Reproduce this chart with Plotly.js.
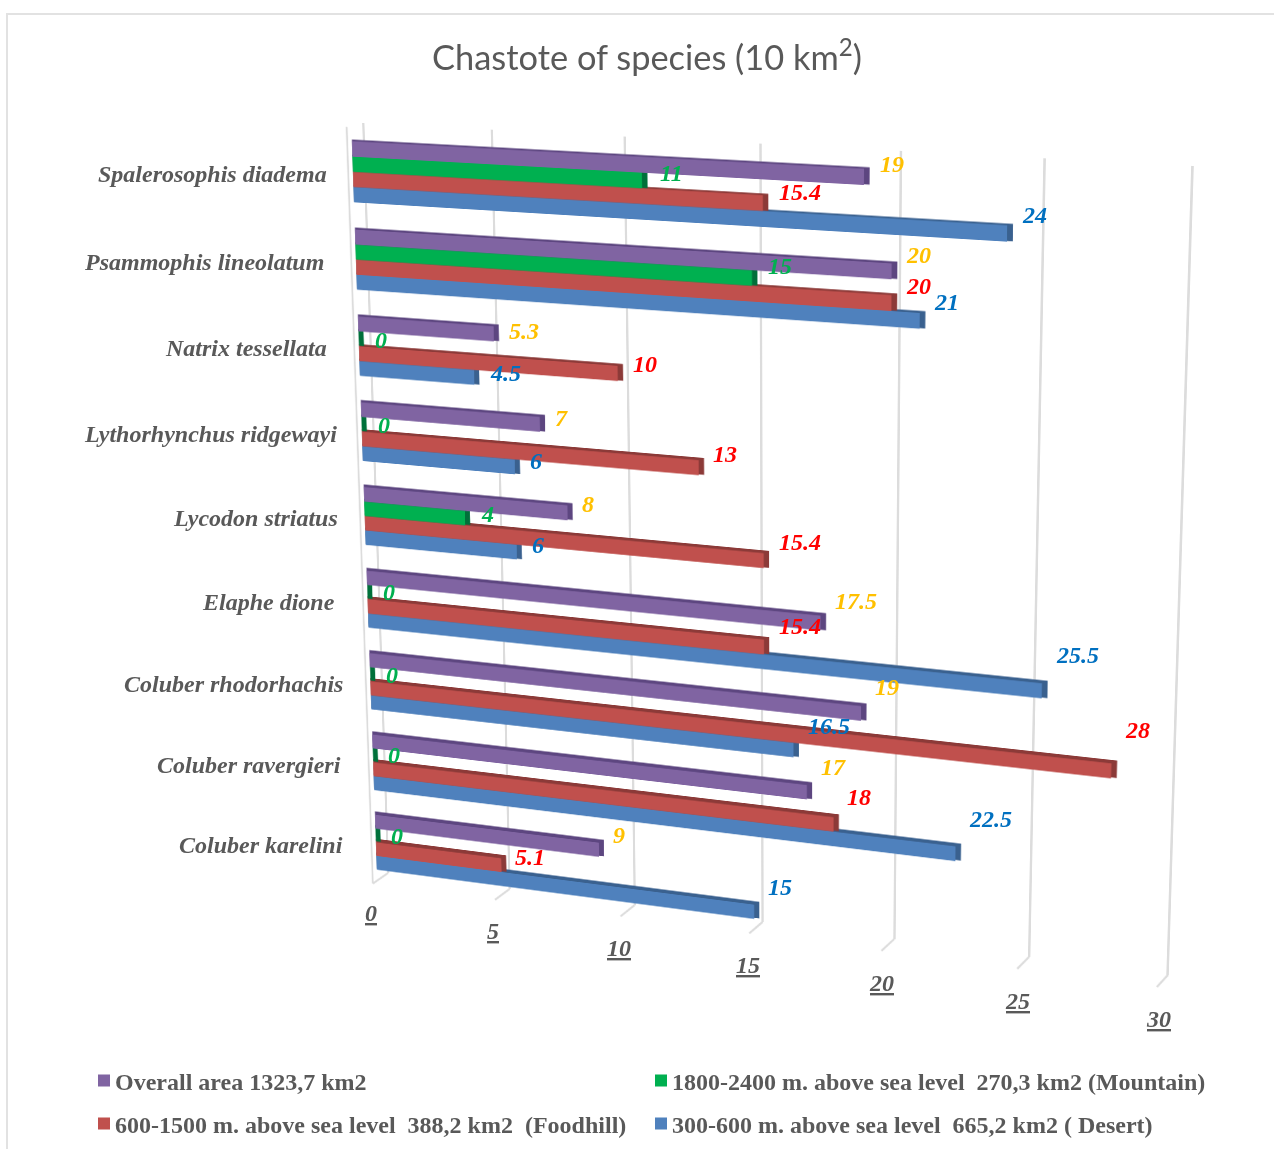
<!DOCTYPE html>
<html><head><meta charset="utf-8">
<script src="https://cdn.plot.ly/plotly-3.0.1.min.js"></script>
<style>
html,body{margin:0;padding:0;background:#fff;overflow:hidden}
#chart{position:absolute;left:0;top:0;width:1274px;height:1149px}
#frame{position:absolute;left:6px;top:13px;right:0;bottom:0;border-left:2px solid #E2E2E2;border-top:2px solid #E2E2E2;pointer-events:none}
</style></head><body>
<div id="frame"></div>
<div id="chart"></div>
<script>
// ---- data ----
const species = ['Spalerosophis diadema','Psammophis lineolatum','Natrix tessellata','Lythorhynchus ridgewayi','Lycodon striatus','Elaphe dione','Coluber rhodorhachis','Coluber ravergieri','Coluber karelini'];
const overallArea = [19,20,5.3,7,8,17.5,19,17,9];
const mountain    = [11,15,0,0,4,0,0,0,0];
const foothill    = [15.4,20,10,13,15.4,15.4,28,18,5.1];
const desert      = [24,21,4.5,6,6,25.5,16.5,22.5,15];
const seriesNames = ['Overall area 1323,7 km2','1800-2400 m. above sea level\u00A0\u00A0270,3 km2 (Mountain)','600-1500 m. above sea level\u00A0\u00A0388,2 km2\u00A0\u00A0(Foodhill)','300-600 m. above sea level\u00A0\u00A0665,2 km2 ( Desert)'];
const axisTicks = [0,5,10,15,20,25,30];

// ---- layout constants (pixels in the final picture) ----
const W=1274,H=1149,mL=100,mR=100,mT=100,mB=100;
const pw=W-mL-mR, ph=H-mT-mB;
const r0=-1, r1=30.5, barZero=0.46, barScale=1.009;
const quad={tl:[363,123],tr:[1193,166],br:[1168,975],bl:[388,873]}; // back wall, values 0 and 30
const faceColors=['#8064A2','#00B050','#C0504D','#4F81BD'];
const sideColors=['#5D4680','#00703A','#8C3A38','#3A618F'];
const labelColors=['#FFC000','#00B050','#FF0000','#0070C0'];
const legendPos=[[75,1081],[632,1081],[75,1124],[632,1124]];
const labelPos=[
 [[892,164],[671,173],[800,192],[1034,215]],
 [[918,255],[780,266],[918,286],[946,302]],
 [[524,331],[381,340],[645,364],[505,373]],
 [[561,418],[384,425],[725,454],[536,461]],
 [[588,504],[487,514],[800,542],[538,545]],
 [[856,601],[389,592],[800,626],[1077,655]],
 [[887,687],[392,675],[1137,730],[829,726]],
 [[833,767],[394,755],[859,797],[990,819]],
 [[619,835],[397,836],[530,857],[780,887]]];
const catRight=[329,326,329,339,340,337,345,343,345];
const catY=[174,262,348,434,518,602,684,765,845];
const tickPos=[[371,913],[493,931],[619,948],[748,965],[881,983],[1017,1001],[1158,1019]];

const serif='"Liberation Serif","Times New Roman",serif';
const gray='#595959';
const paperX=px=>(px-mL)/pw, paperY=py=>1-(py-mT)/ph;
const valX=v=>(v-r0)/(r1-r0);

const series=[overallArea,mountain,foothill,desert];
const halfGroup=0.345, barW=2*halfGroup/4, capLen=0.2;
const traces=[];
[3,2,1,0].forEach(s=>{
  const vals=series[s];
  const top=-halfGroup+s*barW;
  const band=species.map((_,i)=>0.02+i*0.003);
  traces.push({type:'bar',orientation:'h',y:species,x:vals.map(v=>v+capLen),
    offset:band.map(b=>top-b),width:band.map(b=>barW+b*0.7),
    marker:{color:sideColors[s],line:{width:0}},showlegend:false,hoverinfo:'skip'});
  traces.push({type:'bar',orientation:'h',y:species,x:vals,name:seriesNames[s],
    offset:top,width:barW,marker:{color:faceColors[s],line:{width:0}},
    legend:s===0?'legend':'legend'+(s+1),showlegend:true});
});
traces.push({type:'scatter',mode:'none',x:[0],y:[species[0]],xaxis:'x2',yaxis:'y',showlegend:false,hoverinfo:'skip'});

const annotations=[];
const ann=(txt,x,y,xa,font)=>annotations.push({text:txt,xref:'paper',yref:'paper',x:paperX(x),y:paperY(y),xanchor:xa,yanchor:'middle',showarrow:false,font});
species.forEach((n,i)=>ann(n,catRight[i],catY[i],'right',{family:serif,size:24,color:gray,weight:'bold',style:'italic'}));
series.forEach((vals,s)=>vals.forEach((v,i)=>ann(String(v),labelPos[i][s][0],labelPos[i][s][1],'center',{family:serif,size:24,color:labelColors[s],weight:'bold',style:'italic'})));
axisTicks.forEach((t,i)=>ann('<u>'+t+'</u>',tickPos[i][0],tickPos[i][1],'center',{family:serif,size:24,color:gray,weight:'bold',style:'italic'}));

const wallColor='#DCDCDC';
const shapes=[{type:'line',xref:'paper',yref:'paper',x0:valX(-0.65),x1:valX(-0.65),y0:0.994,y1:-0.018,line:{color:wallColor,width:2.5},layer:'below'}];
axisTicks.forEach(t=>{
  shapes.push({type:'line',xref:'paper',yref:'paper',x0:valX(t),y0:0,x1:valX(t-(0.65-t*0.009)),y1:-0.018,line:{color:wallColor,width:2.5},layer:'below'});
});

const legendBase=i=>({x:paperX(legendPos[i][0]),y:paperY(legendPos[i][1]),xanchor:'left',yanchor:'middle',bgcolor:'rgba(0,0,0,0)',borderwidth:0,font:{family:serif,size:24,color:gray,weight:'bold'}});

const layout={
  width:W,height:H,autosize:false,
  margin:{l:mL,r:mR,t:mT,b:mB,pad:0,autoexpand:false},
  paper_bgcolor:'rgba(0,0,0,0)',plot_bgcolor:'rgba(0,0,0,0)',
  barmode:'overlay',
  title:{text:'Chastote of species (10 km<sup>2</sup>)',x:647/W,y:1-58/H,xanchor:'center',yanchor:'middle',font:{family:'Lato, sans-serif',size:34.4,color:gray}},
  xaxis:{range:[(r0+barZero)/barScale,(r1+barZero)/barScale],showgrid:false,zeroline:false,showticklabels:false,ticks:'',showline:false},
  xaxis2:{range:[r0,r1],overlaying:'x',anchor:'y',tickmode:'array',tickvals:axisTicks,showgrid:true,gridcolor:wallColor,gridwidth:2.5,zeroline:false,showticklabels:false,ticks:'',showline:false},
  yaxis:{type:'category',categoryorder:'array',categoryarray:species,range:[8.369,-0.5575],showgrid:false,zeroline:false,showticklabels:false,ticks:'',showline:false},
  legend:legendBase(0),legend2:legendBase(1),legend3:legendBase(2),legend4:legendBase(3),
  annotations,shapes
};

function homography(){
  const {tl,tr,br,bl}=quad;
  const dx1=tr[0]-br[0],dx2=bl[0]-br[0],sx=tl[0]-tr[0]+br[0]-bl[0];
  const dy1=tr[1]-br[1],dy2=bl[1]-br[1],sy=tl[1]-tr[1]+br[1]-bl[1];
  const den=dx1*dy2-dx2*dy1;
  const g=(sx*dy2-dx2*sy)/den,h=(dx1*sy-sx*dy1)/den;
  const a=tr[0]-tl[0]+g*tr[0],b=bl[0]-tl[0]+h*bl[0],c=tl[0];
  const d=tr[1]-tl[1]+g*tr[1],e=bl[1]-tl[1]+h*bl[1],f=tl[1];
  const L=mL+valX(0)*pw,Wd=(valX(30)-valX(0))*pw,T=mT,Hd=ph;
  const A=a/Wd,B=b/Hd,C=c-a*L/Wd-b*T/Hd;
  const D=d/Wd,E=e/Hd,F=f-d*L/Wd-e*T/Hd;
  const G=g/Wd,I=h/Hd,J=1-g*L/Wd-h*T/Hd;
  return [A,D,0,G, B,E,0,I, 0,0,1,0, C,F,0,J];
}

Plotly.newPlot('chart',traces,layout,{displayModeBar:false,responsive:false}).then(gd=>{
  const svg=gd.querySelector('.main-svg');
  svg.style.transformOrigin='0 0';
  svg.style.transform='matrix3d('+homography().join(',')+')';
  svg.style.filter='blur(0.5px)';
  gd.querySelectorAll('.legendpoints').forEach(p=>{p.setAttribute('transform','translate(9,0)');});
});
</script>
</body></html>
